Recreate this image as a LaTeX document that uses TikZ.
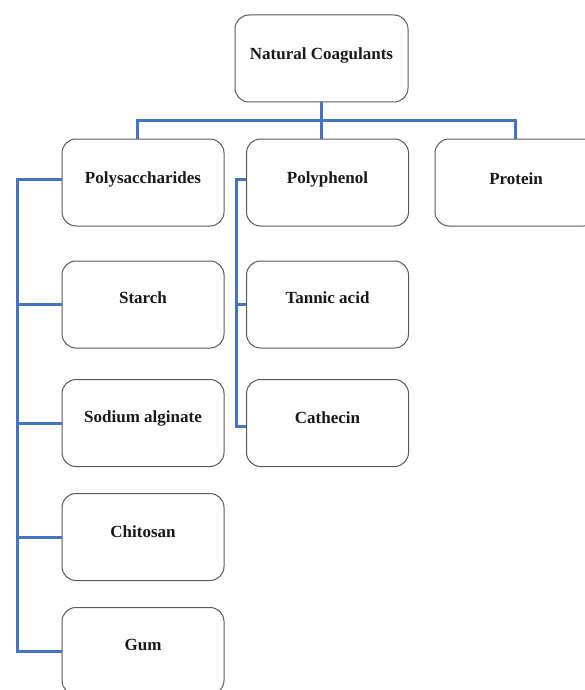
\documentclass[tikz,border=0pt]{standalone}
\usepackage{fontspec}
\setmainfont{Liberation Serif}
\begin{document}
\begin{tikzpicture}[x=1pt,y=-1pt,
  box/.style={draw=black!65, line width=1pt, rounded corners=14pt, minimum width=162pt, minimum height=87pt, inner sep=0pt},
  lbl/.style={font=\bfseries\fontsize{17}{20}\selectfont, text=black!90},
  conn/.style={draw={rgb,255:red,68;green,114;blue,196}, line width=3pt}]
\useasboundingbox (0,0) rectangle (584,690);
\fill[white] (0,0) rectangle (584,690);
\node[box, minimum width=173pt] (nc) at (321.5,58.5) {};
\node[box] (ps) at (143,182.5) {};
\node[box] (pp) at (327.5,182.5) {};
\node[box] (pr) at (516,182.5) {};
\node[box] (st) at (143,304.5) {};
\node[box] (sa) at (143,423) {};
\node[box] (ch) at (143,537) {};
\node[box] (gu) at (143,651) {};
\node[box] (ta) at (327.5,304.5) {};
\node[box] (ca) at (327.5,423) {};
\node[lbl] (nct) at (321.5,55) {Natural Coagulants};
\node[lbl] (pst) at (143,179) {Polysaccharides};
\node[lbl] (ppt) at (327.5,179) {Polyphenol};
\node[lbl] (prt) at (516,179) {Protein};
\node[lbl] (stt) at (143,298) {Starch};
\node[lbl] (sat) at (143,418) {Sodium alginate};
\node[lbl] (cht) at (143,532) {Chitosan};
\node[lbl] (gut) at (143,645) {Gum};
\node[lbl] (tat) at (327.5,298) {Tannic acid};
\node[lbl] (cat) at (327.5,418) {Cathecin};
% top bar
\coordinate (bl) at (137,121);
\coordinate (br) at (515,121);
\draw[conn] (nc.south) -- (nc.south |- bl);
\draw[conn] (ps.north -| bl) -- (bl) -- (br) -- (pr.north -| br);
\draw[conn] (nc.south |- bl) -- (pp.north -| nc.south);
% left spine
\coordinate (lt) at (17,179);
\coordinate (lb) at (17,651);
\draw[conn] (ps.west |- lt) -- (lt) -- (lb) -- (gu.west);
\draw[conn] (lt |- st.west) -- (st.west);
\draw[conn] (lt |- sa.west) -- (sa.west);
\draw[conn] (lt |- ch.west) -- (ch.west);
% polyphenol spine
\coordinate (mt) at (236,179);
\coordinate (mb) at (236,426);
\draw[conn] (pp.west |- mt) -- (mt) -- (mb) -- (ca.west |- mb);
\draw[conn] (mt |- ta.west) -- (ta.west);
\end{tikzpicture}
\end{document}
